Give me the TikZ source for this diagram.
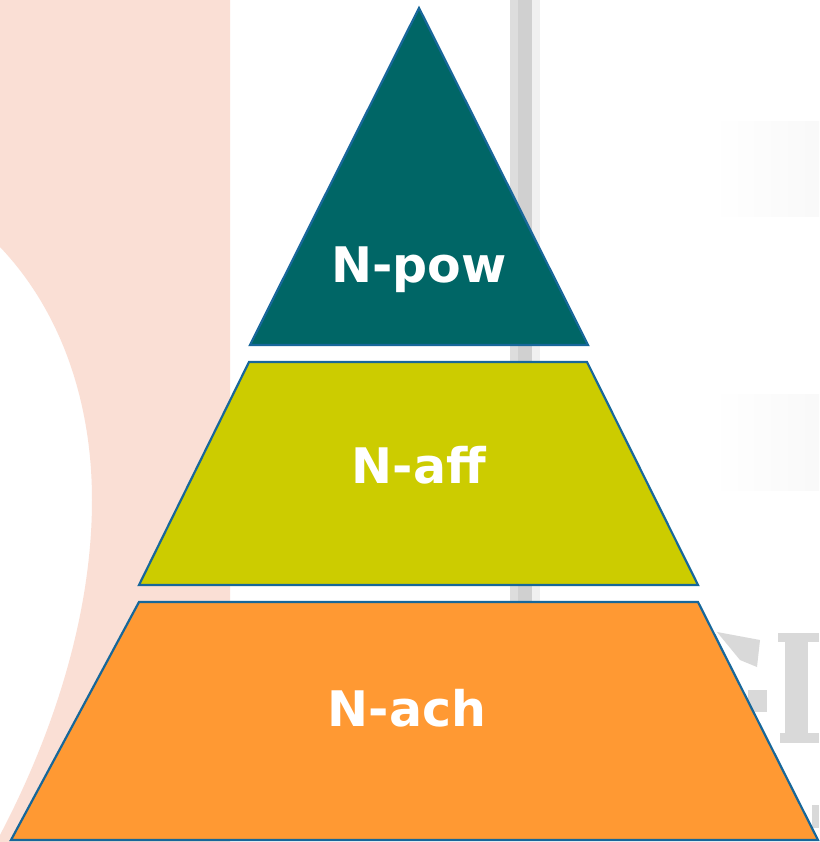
\documentclass[tikz,border=0pt]{standalone}
\usepackage{fontspec}
\setsansfont{DejaVu Sans}
\usepackage{tikz}
\usepackage{xcolor}
\definecolor{powteal}{HTML}{006666}
\definecolor{affolive}{HTML}{CCCC00}
\definecolor{achorange}{HTML}{FF9933}
\definecolor{rimblue}{HTML}{17679A}
\definecolor{blush}{HTML}{FADFD5}
\tikzstyle{level} = [draw=rimblue, line width=2.2pt, line join=miter]
\tikzstyle{lvltext} = [text=white, anchor=base, inner sep=0pt, font=\sffamily\bfseries\fontsize{49}{58}\selectfont]

\begin{document}
\begin{tikzpicture}[x=1pt,y=-1pt]
  \useasboundingbox (0,0) rectangle (819,842);
  \fill[white] (0,0) rectangle (819,842);

  % backdrop
  \fill[blush] (0,0) -- (230,0) -- (230,842) -- (0,842) -- (0,835)
    .. controls (50,740) and (92,620) .. (92,500)
    .. controls (92,400) and (60,310) .. (0,247) -- cycle;
  \fill[gray!27] (510,0) rectangle (540,620);
  \fill[gray!37] (518,0) rectangle (532,620);
  \fill[gray!12] (532,0) rectangle (540,620);
  \shade[left color=white, right color=gray!5] (712,122) rectangle (819,217);
  \shade[left color=white, right color=gray!5] (712,394) rectangle (819,490);
  \fill[gray!30] (717,632) -- (760,640) -- (757,667) -- (740,660) -- cycle;
  \fill[gray!30] (748,690) rectangle (767,712);
  \fill[gray!30] (778,633) rectangle (819,642);
  \fill[gray!30] (785,633) rectangle (808,743);
  \fill[gray!30] (780,733) rectangle (819,743);
  \fill[gray!30] (812,805) rectangle (819,828);

  % the three tiers
  \filldraw[level, fill=powteal] (419,8) -- (588,345) -- (250,345) -- cycle;
  \filldraw[level, fill=affolive] (249,362) -- (587,362) -- (698,585) -- (139,585) -- cycle;
  \filldraw[level, fill=achorange] (139,602) -- (698,602) -- (818,840) -- (11,840) -- cycle;

  \node[lvltext] (N_pow) at (419,282) {N-pow};
  \node[lvltext] (N_aff) at (419,483) {N-aff};
  \node[lvltext] (N_ach) at (407,726) {N-ach};
\end{tikzpicture}
\end{document}
